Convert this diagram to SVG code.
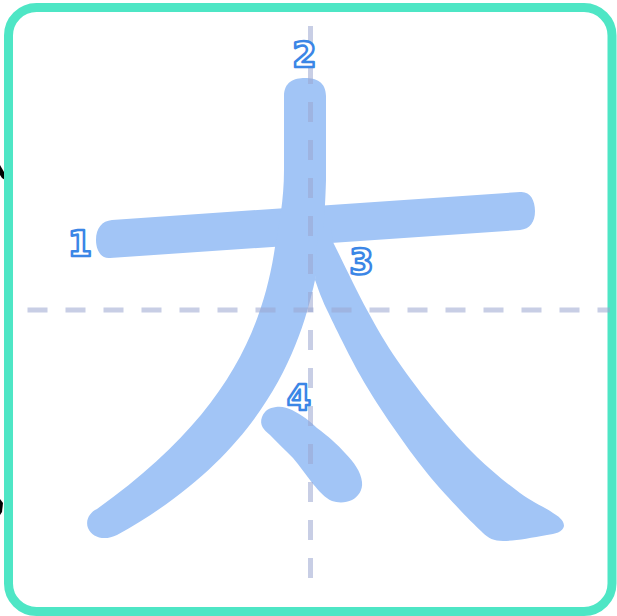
<svg xmlns="http://www.w3.org/2000/svg" width="617" height="616" viewBox="0 0 617 616">
<style>
.stk{fill:#a2c5f6}
.guide{fill:none;stroke:#9aa6cf;stroke-opacity:0.55;stroke-width:5;stroke-dasharray:20 18}
.num{font-family:"DejaVu Sans","Liberation Sans",sans-serif;font-weight:bold;font-size:35px;fill:#ffffff;stroke:#3b86e6;stroke-width:2.5;stroke-linejoin:round;text-anchor:middle}
</style>
<rect x="0" y="0" width="617" height="616" fill="#ffffff"/>
<path d="M0,165 L4,172 L5,180 L2,178 L0,175 Z" fill="#000"/>
<path d="M0,499 L3,503 L2,512 L0,515 Z" fill="#000"/>
<rect x="8.5" y="7.5" width="603.5" height="604" rx="28" ry="28" fill="#ffffff" stroke="#4ee6c5" stroke-width="9"/>
<g id="stroke1"><path class="stk" d="M112,220 L520,192 C530,191 535,200 535,211 C535,222 530,229 520,230 L110,258 C101,259 96,250 96,240 C96,228 102,221 112,220 Z"/></g>
<g id="stroke2"><path class="stk" d="M284,96 C284,82 294,78 305,78 C316,78 326,82 326,96 L326,180 C325.3,204.8 323.8,228.3 322,245 C320.2,261.7 317.3,269.2 315,280 C300,350 262,455 117,535 C105,541 92,538 88,528 C85,520 90,512 97,509 C222,420 262,335 275,247 C279,225 284,200 284,170 L284,96 Z"/></g>
<g id="stroke3"><path class="stk" d="M331,228 L333,242 C338.7,253.3 356.3,290.3 367,310 C377.7,329.7 385.3,342.8 397,360 C408.7,377.2 423.7,396.8 437,413 C450.3,429.2 463.2,443.7 477,457 C490.8,470.3 507.3,483.7 520,493 C532.7,502.3 545.8,507.7 553,513 C558,516 564,520 564,526 C563,532 555,534 547,535 C530,538 515,541 503,541 C494,541 488,538 483,533 C479.2,529.2 469.3,520 460,510 C450.7,500 438.2,486.8 427,473 C415.8,459.2 404.2,443.3 393,427 C381.8,410.7 371,394.5 360,375 C349,355.5 334.5,325.8 327,310 C319.5,294.2 317,285 315,280 L318,228 Z"/></g>
<g id="stroke4"><path class="stk" d="M262,417 C265,410 269,408 276,407 C282,406 287,408 292,410 C302,415 310,421 317,428 C328,436 338,445 345,453 C354,462 361,472 362,482 C363,490 358,497 352,500 C346,503 338,503 332,501 C325,498 319,491 313,484 C306,475 300,466 293,458 C285,450 277,442 270,435 C264,430 259,425 262,417 Z"/></g>
<g id="guides">
<line class="guide" x1="310.5" y1="26" x2="310.5" y2="594"/>
<line class="guide" x1="27.5" y1="310" x2="610" y2="310"/>
</g>
<g id="labels">
<text class="num" x="80" y="255.5">1</text>
<text class="num" x="304.5" y="66.5">2</text>
<text class="num" x="361.5" y="273.5">3</text>
<text class="num" x="299" y="410">4</text>
</g>
</svg>
